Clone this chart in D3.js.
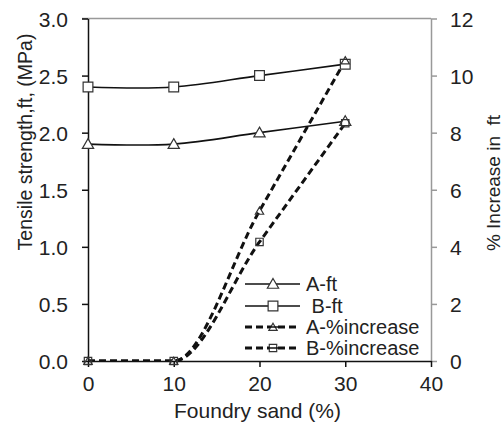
<!DOCTYPE html>
<html>
<head>
<meta charset="utf-8">
<script src="https://cdn.jsdelivr.net/npm/d3@7"></script>
<style>
  html, body { margin: 0; padding: 0; background: #fff; }
  svg { display: block; font-family: "Liberation Sans", Arial, sans-serif; }
</style>
</head>
<body>
<svg id="chart" width="504" height="424"></svg>
<script>
const foundrySand = [0, 10, 20, 30];
const aFt = [1.9, 1.9, 2.0, 2.1];
const bFt = [2.4, 2.4, 2.5, 2.6];
const aIncrease = [0, 0, 5.26, 10.53];
const bIncrease = [0, 0, 4.17, 8.33];
const xTicks = [0, 10, 20, 30, 40];
const yLeftTicks = [0, 0.5, 1.0, 1.5, 2.0, 2.5, 3.0];
const yRightTicks = [0, 2, 4, 6, 8, 10, 12];
const legendLabels = ["A-ft", " B-ft", "A-%increase", "B-%increase"];

const svg = d3.select("#chart");
const L = 88, R = 431, T = 18.5, B = 361;
const textColor = "#222";

const x = d3.scaleLinear().domain([0, 40]).range([L, R]);
const yL = d3.scaleLinear().domain([0, 3]).range([B, T]);
const yR = d3.scaleLinear().domain([0, 12]).range([B, T]);

svg.append("defs").append("clipPath").attr("id", "plotClip")
  .append("rect").attr("x", L).attr("y", T - 10).attr("width", R - L).attr("height", B - T + 10);

// top border and right axis (gray)
svg.append("line").attr("x1", L - 6).attr("x2", R).attr("y1", T).attr("y2", T)
  .attr("stroke", "#999").attr("stroke-width", 1.5);

const rightAxis = svg.append("g").attr("transform", `translate(${R},0)`)
  .call(d3.axisRight(yR).tickValues(yRightTicks).tickFormat(d3.format("d")).tickSize(6).tickSizeOuter(0));
rightAxis.select(".domain").attr("stroke", "#999").attr("stroke-width", 1.5);
rightAxis.selectAll(".tick line").attr("stroke", "#999").attr("stroke-width", 1.5);
rightAxis.selectAll(".tick text").attr("x", 19).attr("dy", "0.36em")
  .attr("fill", textColor).style("font-size", "21px");

const tri = d3.symbol().type(d3.symbolTriangle);
const sq = d3.symbol().type(d3.symbolSquare);

// series definitions
const series = [
  { vals: aFt, scale: yL, dash: null, width: 1.6, sym: tri, size: 55, fill: "#fff", curve: d3.curveCardinal.tension(0) },
  { vals: bFt, scale: yL, dash: null, width: 1.6, sym: sq, size: 95, fill: "#fff", curve: d3.curveCardinal.tension(0) },
  { vals: aIncrease, scale: yR, dash: "7,4", width: 3, sym: tri, size: 30, fill: "none", curve: d3.curveMonotoneX },
  { vals: bIncrease, scale: yR, dash: "7,4", width: 3, sym: sq, size: 55, fill: "none", curve: d3.curveMonotoneX }
];

series.forEach(s => {
  const line = d3.line().curve(s.curve)
    .x((d, i) => x(foundrySand[i])).y(d => s.scale(d));
  svg.append("path").attr("d", line(s.vals))
    .attr("clip-path", "url(#plotClip)")
    .attr("fill", "none").attr("stroke", "#111").attr("stroke-width", s.width)
    .attr("stroke-dasharray", s.dash);
});

// left axis
const leftAxis = svg.append("g").attr("transform", `translate(${L},0)`)
  .call(d3.axisLeft(yL).tickValues(yLeftTicks).tickFormat(d3.format(".1f")).tickSize(6).tickSizeOuter(0));
leftAxis.select(".domain").attr("stroke", "#111").attr("stroke-width", 1.5);
leftAxis.selectAll(".tick line").attr("stroke", "#111").attr("stroke-width", 1.5);
leftAxis.selectAll(".tick text").attr("x", -20).attr("dy", "0.36em")
  .attr("fill", textColor).style("font-size", "21px");

// bottom axis
const bottomAxis = svg.append("g").attr("transform", `translate(0,${B})`)
  .call(d3.axisBottom(x).tickValues(xTicks).tickFormat(d3.format("d")).tickSize(6).tickSizeOuter(0));
bottomAxis.select(".domain").attr("stroke", "#111").attr("stroke-width", 1.5);
bottomAxis.selectAll(".tick line").attr("stroke", "#111").attr("stroke-width", 1.5);
bottomAxis.selectAll(".tick text").attr("y", 15).attr("dy", "0.71em")
  .attr("fill", textColor).style("font-size", "21px");
svg.selectAll("g").attr("font-family", null).attr("font-size", null);

// markers
series.forEach(s => {
  svg.selectAll(null).data(s.vals).enter().append("path")
    .attr("d", s.sym.size(s.size))
    .attr("transform", (d, i) => `translate(${x(foundrySand[i])},${s.scale(d) + (s.sym === tri ? 1 : 0)})`)
    .attr("fill", s.fill).attr("stroke", "#333").attr("stroke-width", 1.2);
});

// axis titles
svg.append("text").attr("x", (L + R) / 2 - 2).attr("y", 418)
  .attr("text-anchor", "middle").attr("fill", textColor).style("font-size", "21px")
  .text("Foundry sand (%)");
svg.append("text").attr("transform", "translate(32,142) rotate(-90)")
  .attr("text-anchor", "middle").attr("fill", textColor).style("font-size", "19.5px")
  .attr("xml:space", "preserve")
  .text("Tensile strength,ft, (MPa)");
svg.append("text").attr("transform", "translate(500,183) rotate(-90)")
  .attr("text-anchor", "middle").attr("fill", textColor).style("font-size", "19px")
  .attr("xml:space", "preserve")
  .text("% Increase in  ft");

// legend
const legendY = [284, 306, 327, 348];
series.forEach((s, i) => {
  const g = svg.append("g").attr("transform", `translate(0,${legendY[i]})`);
  g.append("line").attr("x1", 245).attr("x2", 300).attr("y1", 0).attr("y2", 0)
    .attr("stroke", "#111").attr("stroke-width", s.width).attr("stroke-dasharray", s.dash);
  g.append("path").attr("d", s.sym.size(s.size))
    .attr("transform", `translate(273,${s.sym === tri ? 1 : 0})`)
    .attr("fill", "#fff").attr("stroke", "#333").attr("stroke-width", 1.2);
  if (s.fill === "none") {
    g.append("line").attr("x1", 268).attr("x2", 278).attr("y1", 0).attr("y2", 0)
      .attr("stroke", "#111").attr("stroke-width", 1.5);
  }
  g.append("text").attr("x", 306).attr("y", 0).attr("dy", "0.36em")
    .attr("xml:space", "preserve")
    .attr("fill", textColor).style("font-size", "20px").text(legendLabels[i]);
});
</script>
</body>
</html>
